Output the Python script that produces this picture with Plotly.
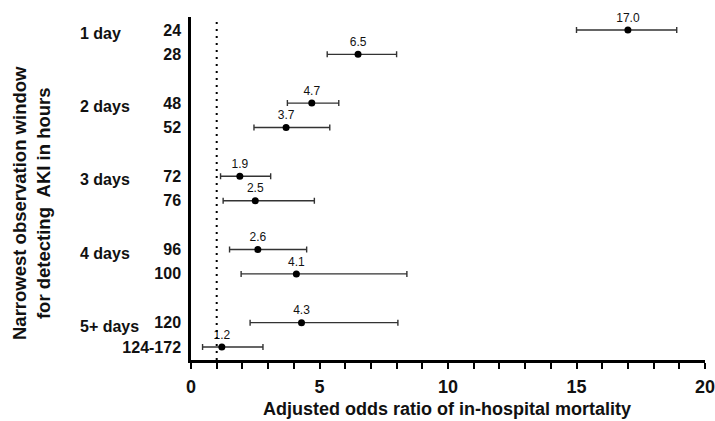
import plotly.graph_objects as go

# ---- data ----
groups = ["1 day", "2 days", "3 days", "4 days", "5+ days"]
hours = ["24", "28", "48", "52", "72", "76", "96", "100", "120", "124-172"]
row_group = [0, 0, 1, 1, 2, 2, 3, 3, 4, 4]
odds = [17.0, 6.5, 4.7, 3.7, 1.9, 2.5, 2.6, 4.1, 4.3, 1.2]
ci_low = [15.0, 5.3, 3.75, 2.45, 1.15, 1.25, 1.5, 1.95, 2.3, 0.45]
ci_high = [18.9, 8.0, 5.75, 5.4, 3.1, 4.8, 4.5, 8.4, 8.05, 2.8]
ref_line = 1.0
x_ticks = [0, 5, 10, 15, 20]

# row positions derived from group membership (gap of one row between groups)
pos = []
seen = {}
for g in row_group:
    k = seen.get(g, 0)
    pos.append(g * 3 + k)
    seen[g] = k + 1

FONT = "Arial, 'Liberation Sans', Helvetica, sans-serif"
W, H = 715, 421
ml, mr, mt, mb = 191, 10, 17, 61
pw = W - ml - mr
ph = H - mt - mb


def px_x(px):
    return (px - ml) / pw


def px_y(py):
    return (H - mb - py) / ph


fig = go.Figure()
fig.add_trace(go.Scatter(
    x=odds, y=pos, mode="markers+text",
    marker=dict(color="black", size=7),
    text=[f"{v:.1f}" for v in odds],
    textposition="top center",
    textfont=dict(family=FONT, size=12, color="#111"),
    error_x=dict(type="data", symmetric=False,
                 array=[h - v for h, v in zip(ci_high, odds)],
                 arrayminus=[v - l for v, l in zip(odds, ci_low)],
                 color="#333", thickness=1.4, width=3),
    showlegend=False, cliponaxis=False,
))

# reference dotted line at OR = 1
fig.add_shape(type="line", xref="x", yref="paper", x0=ref_line, x1=ref_line,
              y0=0, y1=1, line=dict(color="black", width=2, dash="2px,5px"))

# group labels
for gi, g in enumerate(groups):
    first = pos[row_group.index(gi)]
    fig.add_annotation(x=px_x(78), xref="paper", y=first + 0.15, yref="y",
                       text=g, showarrow=False, xanchor="left", yanchor="middle",
                       font=dict(family=FONT, size=16, color="#111", weight="bold"))

# y-axis title (two lines)
fig.add_annotation(x=px_x(31), xref="paper", y=px_y(203), yref="paper",
                   text="Narrowest observation window<br>for detecting  AKI in hours",
                   textangle=-90, showarrow=False, xanchor="center", yanchor="middle",
                   font=dict(family=FONT, size=18.5, color="#111", weight="bold"))

# x-axis title
fig.add_annotation(x=px_x(447), xref="paper", y=px_y(409), yref="paper",
                   text="Adjusted odds ratio of in-hospital mortality",
                   showarrow=False, xanchor="center", yanchor="middle",
                   font=dict(family=FONT, size=18, color="#111", weight="bold"))

fig.update_layout(
    width=W, height=H,
    margin=dict(l=ml, r=mr, t=mt, b=mb, autoexpand=False),
    plot_bgcolor="white", paper_bgcolor="white",
    font=dict(family=FONT, color="#111"),
    xaxis=dict(range=[0, 20], tickvals=x_ticks, ticks="outside", ticklen=6, tickwidth=2,
               tickcolor="black", showline=True, linewidth=2.5, linecolor="black",
               showgrid=False, zeroline=False, automargin=False,
               ticklabelstandoff=3, ticklabeloverflow="allow",
               minor=dict(dtick=1, ticks="outside", ticklen=6, tickwidth=2, tickcolor="black"),
               tickfont=dict(family=FONT, size=18, color="#111", weight="bold")),
    yaxis=dict(range=[13.53, -0.53], tickvals=pos, ticktext=hours, ticks="",
               showline=True, linewidth=2.5, linecolor="black", showgrid=False, zeroline=False,
               ticklabelstandoff=4, automargin=False, ticklabeloverflow="allow",
               tickfont=dict(family=FONT, size=16, color="#111", weight="bold")),
)

fig.write_html("out.html")
